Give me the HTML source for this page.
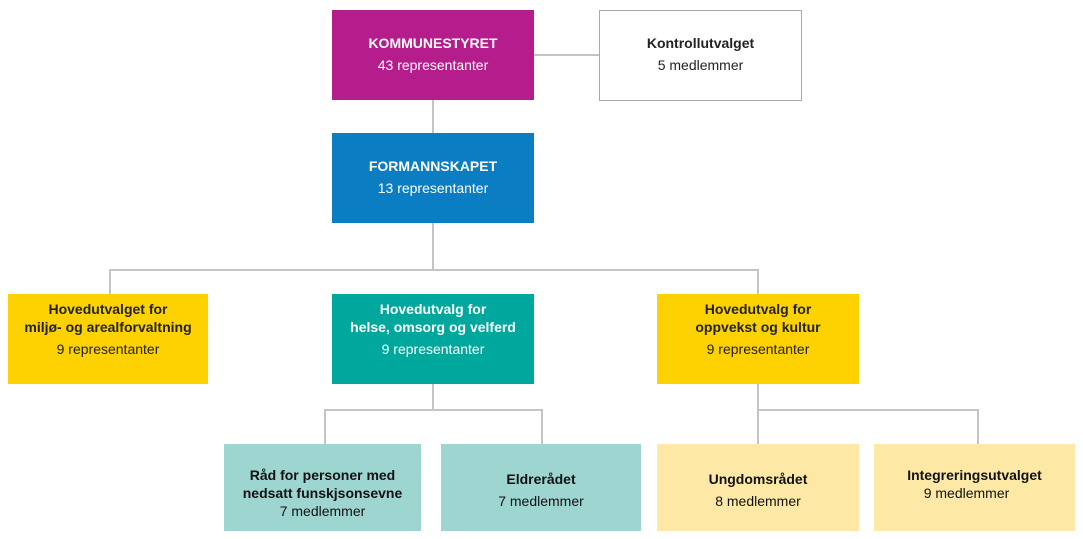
<!DOCTYPE html>
<html><head><meta charset="utf-8"><style>
body{margin:0;width:1083px;height:539px;background:#fff;position:relative;overflow:hidden;font-family:"Liberation Sans",Arial,sans-serif;font-size:14px}
.b{position:absolute;display:flex;flex-direction:column;justify-content:center;align-items:center;text-align:center;line-height:18px;box-sizing:border-box}
.b b{display:block}
.l{position:absolute;background:#c4c4c4}
</style></head><body>
<div class="l" style="left:432px;top:100px;width:2px;height:33px"></div>
<div class="l" style="left:534px;top:54px;width:65px;height:2px"></div>
<div class="l" style="left:432px;top:223px;width:2px;height:47px"></div>
<div class="l" style="left:109px;top:269px;width:650px;height:2px"></div>
<div class="l" style="left:109px;top:269px;width:2px;height:25px"></div>
<div class="l" style="left:757px;top:269px;width:2px;height:25px"></div>
<div class="l" style="left:432px;top:384px;width:2px;height:26px"></div>
<div class="l" style="left:324px;top:409px;width:219px;height:2px"></div>
<div class="l" style="left:324px;top:409px;width:2px;height:35px"></div>
<div class="l" style="left:541px;top:409px;width:2px;height:35px"></div>
<div class="l" style="left:757px;top:384px;width:2px;height:60px"></div>
<div class="l" style="left:757px;top:409px;width:222px;height:2px"></div>
<div class="l" style="left:977px;top:409px;width:2px;height:35px"></div>

<div class="b" style="left:332px;top:10px;width:202px;height:90px;background:#b51c8c;color:#fff;padding-bottom:2px"><b>KOMMUNESTYRET</b><span style="margin-top:4px">43 representanter</span></div>
<div class="b" style="left:599px;top:10px;width:203px;height:91px;border:1px solid #aaa;color:#222;padding-bottom:4px"><b>Kontrollutvalget</b><span style="margin-top:4px">5 medlemmer</span></div>
<div class="b" style="left:332px;top:133px;width:202px;height:90px;background:#0a7dc3;color:#fff;padding-bottom:2px"><b>FORMANNSKAPET</b><span style="margin-top:4px">13 representanter</span></div>

<div class="b" style="left:8px;top:294px;width:200px;height:90px;background:#fdd200;color:#222;padding-bottom:20px"><b>Hovedutvalget for</b><b>miljø- og arealforvaltning</b><span style="margin-top:4px">9 representanter</span></div>
<div class="b" style="left:332px;top:294px;width:202px;height:90px;background:#00a79d;color:#fff;padding-bottom:20px"><b>Hovedutvalg for</b><b>helse, omsorg og velferd</b><span style="margin-top:4px">9 representanter</span></div>
<div class="b" style="left:657px;top:294px;width:202px;height:90px;background:#fdd200;color:#222;padding-bottom:20px"><b>Hovedutvalg for</b><b>oppvekst og kultur</b><span style="margin-top:4px">9 representanter</span></div>

<div class="b" style="left:224px;top:444px;width:197px;height:87px;background:#9dd5d1;color:#111;padding-top:10px"><b>Råd for personer med</b><b>nedsatt funskjsonsevne</b><span>7 medlemmer</span></div>
<div class="b" style="left:441px;top:444px;width:200px;height:87px;background:#9dd5d1;color:#111;padding-top:4px"><b>Eldrerådet</b><span style="margin-top:4px">7 medlemmer</span></div>
<div class="b" style="left:657px;top:444px;width:202px;height:87px;background:#fde9a5;color:#111;padding-top:4px"><b>Ungdomsrådet</b><span style="margin-top:4px">8 medlemmer</span></div>
<div class="b" style="left:874px;top:444px;width:201px;height:87px;background:#fde9a5;color:#111;padding-bottom:8px"><b>Integreringsutvalget</b><span style="margin-right:16px">9 medlemmer</span></div>
</body></html>
